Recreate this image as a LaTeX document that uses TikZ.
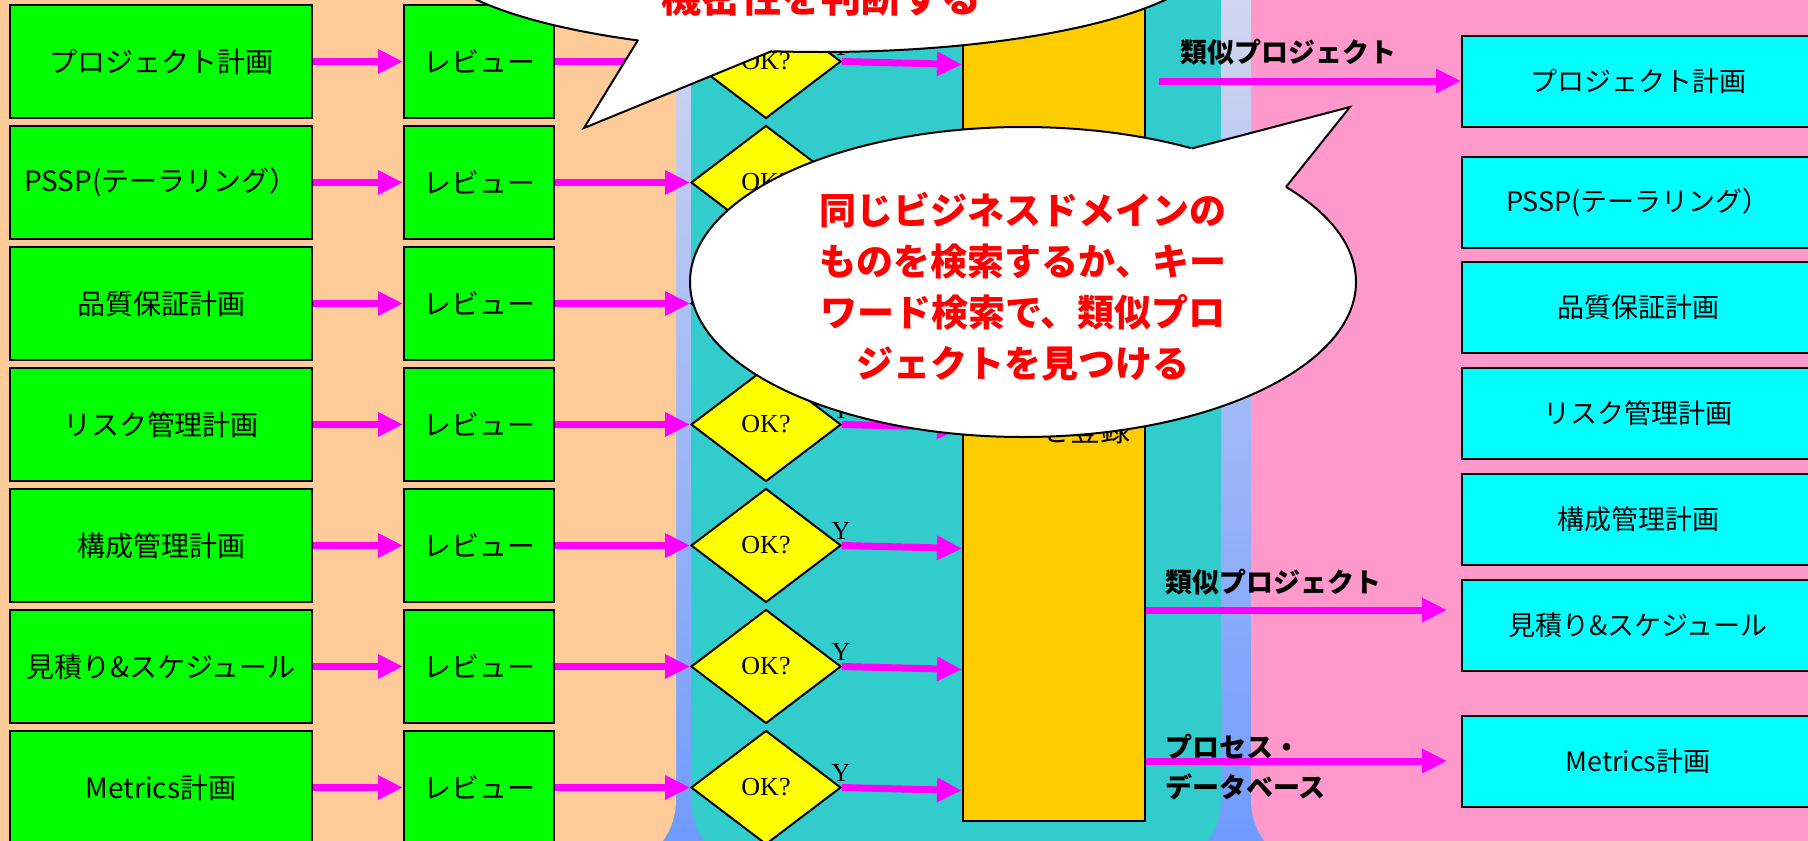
\documentclass[tikz,border=0pt]{standalone}
\usepackage{fontspec}
\setmainfont{Liberation Serif}
\newfontfamily\jp{Noto Sans CJK JP}
\usetikzlibrary{shapes.geometric,arrows.meta,calc}
\definecolor{peach}{HTML}{FFCC99}
\definecolor{teal1}{HTML}{33CCCC}
\definecolor{pink1}{HTML}{FF99CC}
\definecolor{green1}{HTML}{00FF00}
\definecolor{cyan1}{HTML}{00FFFF}
\definecolor{yellow1}{HTML}{FFFF00}
\definecolor{orange1}{HTML}{FFCC00}
\definecolor{mag}{HTML}{FF00FF}
\definecolor{bandtop}{RGB}{208,214,238}
\definecolor{bandbot}{RGB}{112,155,255}
\tikzset{
  gbox/.style={draw=black, line width=2pt, fill=green1, inner sep=0pt, minimum height=113pt, font=\jp\fontsize{28}{34}\selectfont},
  cbox/.style={draw=black, line width=2pt, fill=cyan1, inner sep=0pt, minimum width=352pt, minimum height=91pt, font=\jp\fontsize{27}{33}\selectfont},
  okd/.style={diamond, draw=black, line width=2pt, fill=yellow1, minimum width=150pt, minimum height=114pt, inner sep=0pt, aspect=1.32, font=\fontsize{26}{30}\selectfont},
  arr/.style={draw=mag, line width=7pt, -{Triangle[length=25pt,width=23pt]}},
  ylab/.style={font=\fontsize{26}{30}\selectfont, inner sep=0pt},
  blab/.style={font=\jp\bfseries\fontsize{27}{40}\selectfont, inner sep=0pt, anchor=west, align=left},
  calltext/.style={font=\jp\bfseries\fontsize{37}{51}\selectfont, text=red, align=center, inner sep=0pt},
  outline/.style={draw=black, line width=2pt, line join=miter}
}
\begin{document}
\begin{tikzpicture}[x=1pt,y=-1pt]
\useasboundingbox (0,0) rectangle (1808,841);
\clip (0,0) rectangle (1808,841);
% background and lanes
\shade[top color=bandtop, bottom color=bandbot] (0,0) rectangle (1808,841);
\fill[peach, rounded corners=70pt] (-100,-100) rectangle (676,870);
\fill[teal1, rounded corners=70pt] (691,-100) rectangle (1221,870);
\fill[pink1, rounded corners=70pt] (1251,-100) rectangle (1950,870);

% orange register box
\node[draw=black, line width=2pt, fill=orange1, minimum width=182pt, minimum height=861pt, inner sep=0pt] (ob) at (1054,390.5) {};
\node[font=\jp\fontsize{30}{34}\selectfont, inner sep=0pt] (reg) at (1085,430) {を登録};

% left rows
\foreach \i/\txt/\y in {1/プロジェクト計画/61.5, 2/PSSP(テーラリング）/182.5, 3/品質保証計画/303.5, 4/リスク管理計画/424.5, 5/構成管理計画/545.5, 6/見積り\&スケジュール/666.5, 7/Metrics計画/787.5}{
  \node[gbox, minimum width=302pt] (g\i) at (161,\y) {\txt};
  \node[gbox, minimum width=150pt] (v\i) at (479,\y) {レビュー};
  \node[okd] (d\i) at (766,\y) {OK?};
  \node[ylab] (y\i) at (841,{\y-15}) {Y};
  \draw[arr] (g\i.east) -- (v\i.west);
  \draw[arr] (v\i.east) -- (d\i.west);
  \draw[arr] (d\i.east) -- ($(ob.west |- d\i.east)+(0,3)$);
}

% right boxes
\foreach \i/\txt/\y in {1/プロジェクト計画/81, 2/PSSP(テーラリング）/202.5, 3/品質保証計画/307.5, 4/リスク管理計画/413.5, 5/構成管理計画/519.5, 6/見積り\&スケジュール/625.5, 7/Metrics計画/761.5}{
  \node[cbox] (r\i) at (1638,\y) {\txt};
}

% right arrows and labels
\coordinate (s1) at (1159,81);
\coordinate (e2) at (1447,610);
\coordinate (e3) at (1447,761);
\draw[arr] (s1) -- (r1.west);
\draw[arr] (ob.east |- e2) -- (e2);
\draw[arr] (ob.east |- e3) -- (e3);
\node[blab] (l1) at (1180,52) {類似プロジェクト};
\node[blab] (l2) at (1165,582) {類似プロジェクト};
\node[blab] (l3) at (1165,767) {プロセス・\\データベース};

% callout 1 (top)
\coordinate (c1tip) at (584,128);
\coordinate (c1a) at (638,40);
\coordinate (c1b) at (772,51);
\fill[white] (821,-48) ellipse[x radius=392, y radius=100];
\draw[outline] (821,-48) ellipse[x radius=392, y radius=100];
\fill[white] (643.4,31.2) -- (c1tip) -- (790.8,43.3) -- cycle;
\draw[outline] (c1a) -- (c1tip) -- (c1b);
\node[calltext, font=\jp\bfseries\fontsize{40}{48}\selectfont, anchor=base] (t1) at (821,12) {機密性を判断する};

% callout 2 (middle)
\coordinate (c2tip) at (1350,107);
\coordinate (c2a) at (1192,148.4);
\coordinate (c2b) at (1286,187);
\fill[white] (1023,282) ellipse[x radius=333, y radius=155];
\draw[outline] (1023,282) ellipse[x radius=333, y radius=155];
\fill[white] (1176.2,152.5) -- (c2tip) -- (1279.6,195) -- cycle;
\draw[outline] (c2a) -- (c2tip) -- (c2b);
\node[calltext] (t2) at (1023,286.5) {同じビジネスドメインの\\ものを検索するか、キー\\ワード検索で、類似プロ\\ジェクトを見つける};
\end{tikzpicture}
\end{document}
